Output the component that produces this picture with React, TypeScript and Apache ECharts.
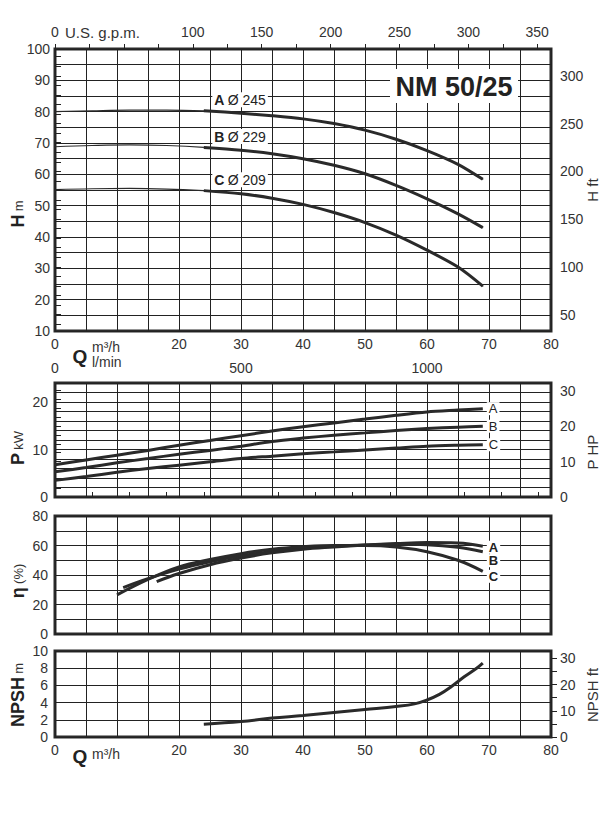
import React, { useEffect, useRef } from 'react';
import * as echarts from 'echarts';

// ---------- data ----------
const qHead = [0, 6, 12, 18, 24, 30, 35, 40, 45, 50, 55, 60, 65, 69];
const headA = [80.0, 80.3, 80.5, 80.5, 80.3, 79.5, 78.7, 77.7, 76.2, 74.1, 71.2, 67.6, 63.2, 58.4];
const headB = [68.8, 69.2, 69.4, 69.2, 68.6, 67.7, 66.6, 65.0, 62.9, 60.2, 56.5, 52.2, 47.4, 43.0];
const headC = [55.1, 55.4, 55.5, 55.3, 54.8, 53.8, 52.4, 50.4, 47.8, 44.6, 40.6, 35.8, 30.4, 24.3];
const thickFrom = 4; // index where the solid (thick) part of each head curve starts
const headNames = ['A', 'B', 'C'];
const headDiam = ['Ø 245', 'Ø 229', 'Ø 209'];

const qPower = [0, 5, 10, 15, 20, 25, 30, 35, 40, 45, 50, 55, 60, 65, 69];
const powerA = [6.8, 7.8, 8.8, 9.8, 10.9, 11.9, 12.9, 13.9, 14.8, 15.6, 16.4, 17.2, 17.9, 18.3, 18.6];
const powerB = [5.3, 6.2, 7.2, 8.1, 9.0, 9.8, 10.7, 11.7, 12.4, 13.0, 13.5, 14.0, 14.4, 14.7, 14.9];
const powerC = [3.5, 4.3, 5.2, 6.0, 6.7, 7.4, 8.1, 8.6, 9.1, 9.5, 9.9, 10.3, 10.7, 10.9, 11.0];

const qEffA = [16.4, 20, 25, 30, 35, 40, 45, 50, 55, 60, 65, 69];
const effA = [35.5, 41, 47, 51.5, 55, 57.5, 59, 60.3, 61.3, 62, 61.7, 59.5];
const qEffB = [11, 15, 20, 25, 30, 35, 40, 45, 50, 55, 60, 65, 69];
const effB = [31.5, 37.5, 44, 49, 53, 56, 58.3, 59.6, 60.3, 60.8, 60.5, 58.8, 55.8];
const qEffC = [10, 15, 20, 25, 30, 35, 40, 45, 50, 55, 60, 65, 69];
const effC = [26.5, 37, 45.5, 50.5, 54.5, 57.5, 59.2, 60, 60, 59, 55.8, 50, 42.5];

const qNpsh = [24, 30, 35, 40, 45, 50, 55, 58, 60, 62, 64, 66, 68, 69];
const npsh = [1.48, 1.8, 2.2, 2.5, 2.85, 3.2, 3.55, 3.85, 4.3, 4.95, 5.9, 7.0, 8.0, 8.6];

// tick labels
const qLabels = [0, 20, 30, 40, 50, 60, 70, 80];
const gpmLabels = [0, 100, 150, 200, 250, 300, 350];
const lminLabels = [0, 500, 1000];
const hFtLabels = [50, 100, 150, 200, 250, 300];
const hpLabels = [0, 10, 20, 30];
const npshFtLabels = [0, 10, 20, 30];

// unit conversions (gpm scale as printed on the reference sheet)
const M3H_TO_GPM = 4.5;
const M3H_TO_LMIN = 16.6667;
const M_TO_FT = 3.28084;
const KW_TO_HP = 1.34102;

const range = (a: number, b: number, s: number) => {
  const r: number[] = [];
  for (let v = a; v <= b + 1e-9; v += s) r.push(Math.round(v * 100) / 100);
  return r;
};
const pairs = (xs: number[], ys: number[]) => xs.map((x, i) => [x, ys[i]]);

const INK = '#222';
const LINE = '#2a2a2a';
const FONT = 'Liberation Sans, Arial, sans-serif';

export default function App() {
  const ref = useRef<HTMLDivElement>(null);
  useEffect(() => {
    if (!ref.current) return;
    const chart = echarts.init(ref.current, undefined, { renderer: 'svg' });

    const gridBase = { left: 55, width: 496, show: true, borderColor: LINE, borderWidth: 3, backgroundColor: 'transparent' };
    const split = { show: true, lineStyle: { color: INK, width: 1 } };
    const lbl = { color: '#333', fontSize: 14, fontFamily: FONT };
    const plain = (v: number) => String(v);

    const qAxis = (gridIndex: number, showLabels: boolean) => ({
      type: 'value', gridIndex, min: 0, max: 80, interval: 5, position: 'bottom',
      axisLine: { show: false }, axisTick: { show: false }, splitLine: split,
      axisLabel: showLabels
        ? { ...lbl, margin: 6, formatter: (v: number) => (qLabels.includes(v) ? String(v) : '') }
        : { show: false },
    });

    const headSeries: any[] = [];
    [headA, headB, headC].forEach((h, k) => {
      const pts = pairs(qHead, h);
      headSeries.push({
        type: 'line', xAxisIndex: 0, yAxisIndex: 0, data: pts.slice(0, thickFrom + 1),
        showSymbol: false, smooth: 0.4, lineStyle: { color: LINE, width: 1.2 }, z: 3,
      });
      headSeries.push({
        type: 'line', xAxisIndex: 0, yAxisIndex: 0,
        data: pts.slice(thickFrom).map((p, i) =>
          i === 0
            ? {
                value: p,
                label: {
                  show: true, position: [9, -18], formatter: `{b|${headNames[k]}} {n|${headDiam[k]}}`,
                  backgroundColor: '#fff', padding: [1, 2, 0, 2],
                  rich: {
                    b: { fontSize: 14, fontWeight: 'bold', color: INK, fontFamily: FONT },
                    n: { fontSize: 14, color: INK, fontFamily: FONT },
                  },
                },
              }
            : p
        ),
        symbol: 'circle', symbolSize: 1, showSymbol: true, itemStyle: { color: LINE },
        smooth: 0.3, lineStyle: { color: LINE, width: 3 }, z: 4, label: { show: false },
      });
    });

    const endLbl = (name: string, offset: number[], bold: boolean) => ({
      show: true, formatter: name, color: INK, fontSize: 13, lineHeight: 13, fontFamily: FONT,
      fontWeight: bold ? 'bold' : 'normal', distance: 4, offset,
      backgroundColor: '#fff', padding: [0, 2],
    });

    const powerSeries = [powerA, powerB, powerC].map((p, k) => ({
      type: 'line', xAxisIndex: 2, yAxisIndex: 2, data: pairs(qPower, p), showSymbol: false,
      smooth: 0.3, lineStyle: { color: LINE, width: 3 }, endLabel: endLbl(headNames[k], [0, 0], false), z: 4,
    }));

    const effOffsets = [[0, 1], [0, 9], [0, 5]];
    const effSeries = [
      pairs(qEffA, effA), pairs(qEffB, effB), pairs(qEffC, effC),
    ].map((d, k) => ({
      type: 'line', xAxisIndex: 4, yAxisIndex: 4, data: d, showSymbol: false, smooth: 0.4,
      lineStyle: { color: LINE, width: 3 }, endLabel: endLbl(headNames[k], effOffsets[k], true), z: 4,
    }));

    const npshSeries = {
      type: 'line', xAxisIndex: 5, yAxisIndex: 5, data: pairs(qNpsh, npsh), showSymbol: false,
      smooth: 0.4, lineStyle: { color: LINE, width: 3 }, z: 4,
    };

    const outTick = { show: true, inside: false, length: 6, lineStyle: { color: INK, width: 1 } };

    const option: any = {
      animation: false,
      textStyle: { fontFamily: FONT },
      grid: [
        { ...gridBase, top: 49, height: 282 },
        { ...gridBase, top: 383, height: 114 },
        { ...gridBase, top: 516, height: 118 },
        { ...gridBase, top: 651, height: 86 },
      ],
      xAxis: [
        qAxis(0, true),
        {
          type: 'value', gridIndex: 0, position: 'top', min: 0, max: 80 * M3H_TO_GPM,
          axisLine: { show: false }, splitLine: { show: false },
          axisTick: { ...outTick, length: 5, customValues: range(0, 350, 25) },
          axisLabel: { ...lbl, margin: 10, customValues: gpmLabels, formatter: plain },
        },
        qAxis(1, false),
        {
          type: 'value', gridIndex: 1, position: 'top', min: 0, max: 80 * M3H_TO_LMIN,
          axisLine: { show: false }, splitLine: { show: false },
          axisTick: { ...outTick, length: 5, customValues: range(0, 1300, 100) },
          axisLabel: { ...lbl, margin: 8, customValues: lminLabels, formatter: plain },
        },
        qAxis(2, false),
        qAxis(3, true),
      ],
      yAxis: [
        {
          type: 'value', gridIndex: 0, min: 10, max: 100, interval: 5, position: 'left',
          axisLine: { show: false }, axisTick: { show: false }, splitLine: split,
          axisLabel: { ...lbl, margin: 5, formatter: (v: number) => (v % 10 === 0 ? String(v) : '') },
        },
        {
          type: 'value', gridIndex: 0, min: 10 * M_TO_FT, max: 100 * M_TO_FT, position: 'right',
          axisLine: { show: false }, splitLine: { show: false },
          axisTick: { ...outTick, customValues: range(40, 320, 10) },
          axisLabel: { ...lbl, margin: 9, customValues: hFtLabels, formatter: plain },
        },
        {
          type: 'value', gridIndex: 1, min: 0, max: 24, interval: 2, position: 'left',
          axisLine: { show: false }, axisTick: { show: false }, splitLine: split,
          axisLabel: { ...lbl, margin: 7, formatter: (v: number) => (v % 10 === 0 ? String(v) : '') },
        },
        {
          type: 'value', gridIndex: 1, min: 0, max: 24 * KW_TO_HP, position: 'right',
          axisLine: { show: false }, splitLine: { show: false },
          axisTick: { ...outTick, customValues: range(0, 32.5, 2.5) },
          axisLabel: { ...lbl, margin: 9, customValues: hpLabels, formatter: plain },
        },
        {
          type: 'value', gridIndex: 2, min: 0, max: 80, interval: 10, position: 'left',
          axisLine: { show: false }, axisTick: { show: false }, splitLine: split,
          axisLabel: { ...lbl, margin: 7, formatter: (v: number) => (v % 20 === 0 ? String(v) : '') },
        },
        {
          type: 'value', gridIndex: 3, min: 0, max: 10, interval: 2, position: 'left',
          axisLine: { show: false }, axisTick: { show: false }, splitLine: split,
          axisLabel: { ...lbl, margin: 7 },
        },
        {
          type: 'value', gridIndex: 3, min: 0, max: 10 * M_TO_FT, position: 'right',
          axisLine: { show: false }, splitLine: { show: false },
          axisTick: { ...outTick, customValues: range(0, 30, 5) },
          axisLabel: { ...lbl, margin: 9, customValues: npshFtLabels, formatter: plain },
        },
      ],
      series: [...headSeries, ...powerSeries, ...effSeries, npshSeries],
      graphic: [
        { type: 'rect', shape: { x: 390, y: 69, width: 128, height: 34 }, style: { fill: '#fff' }, z: 10 },
        {
          type: 'text', x: 454, y: 87, z: 11,
          style: { text: 'NM 50/25', fill: INK, font: `bold 27px ${FONT}`, align: 'center', verticalAlign: 'middle' },
        },
        {
          type: 'text', x: 65, y: 32, z: 11,
          style: { text: 'U.S. g.p.m.', fill: '#333', font: `15px ${FONT}`, align: 'left', verticalAlign: 'middle' },
        },
        {
          type: 'text', x: 80, y: 356, z: 11,
          style: { text: 'Q', fill: INK, font: `bold 19px ${FONT}`, align: 'center', verticalAlign: 'middle' },
        },
        {
          type: 'text', x: 92, y: 347, z: 11,
          style: { text: 'm³/h', fill: '#333', font: `14px ${FONT}`, align: 'left', verticalAlign: 'middle' },
        },
        {
          type: 'text', x: 92, y: 362, z: 11,
          style: { text: 'l/min', fill: '#333', font: `14px ${FONT}`, align: 'left', verticalAlign: 'middle' },
        },
        {
          type: 'text', x: 80, y: 756, z: 11,
          style: { text: 'Q', fill: INK, font: `bold 19px ${FONT}`, align: 'center', verticalAlign: 'middle' },
        },
        {
          type: 'text', x: 92, y: 754, z: 11,
          style: { text: 'm³/h', fill: '#333', font: `14px ${FONT}`, align: 'left', verticalAlign: 'middle' },
        },
        // rotated axis titles (left)
        ...[
          { y: 214, a: 'H', b: 'm' },
          { y: 448, a: 'P', b: 'kW' },
          { y: 581, a: 'η', b: '(%)' },
          { y: 695, a: 'NPSH', b: 'm' },
        ].map((t) => ({
          type: 'text', x: 18, y: t.y, rotation: Math.PI / 2, z: 11,
          style: {
            text: `{a|${t.a}} {b|${t.b}}`, align: 'center', verticalAlign: 'middle',
            rich: {
              a: { fontSize: 18, fontWeight: 'bold', fill: INK, fontFamily: FONT },
              b: { fontSize: 13, fill: '#333', fontFamily: FONT },
            },
          },
        })),
        // rotated axis titles (right)
        ...[
          { y: 190, t: 'H ft' },
          { y: 452, t: 'P HP' },
          { y: 695, t: 'NPSH ft' },
        ].map((t) => ({
          type: 'text', x: 592, y: t.y, rotation: Math.PI / 2, z: 11,
          style: { text: t.t, fill: '#333', font: `15px ${FONT}`, align: 'center', verticalAlign: 'middle' },
        })),
      ],
    };

    chart.setOption(option);
    return () => chart.dispose();
  }, []);

  return (
    <div
      ref={ref}
      style={{ position: 'absolute', left: 0, top: 0, width: 614, height: 829, background: '#fff' }}
    />
  );
}
